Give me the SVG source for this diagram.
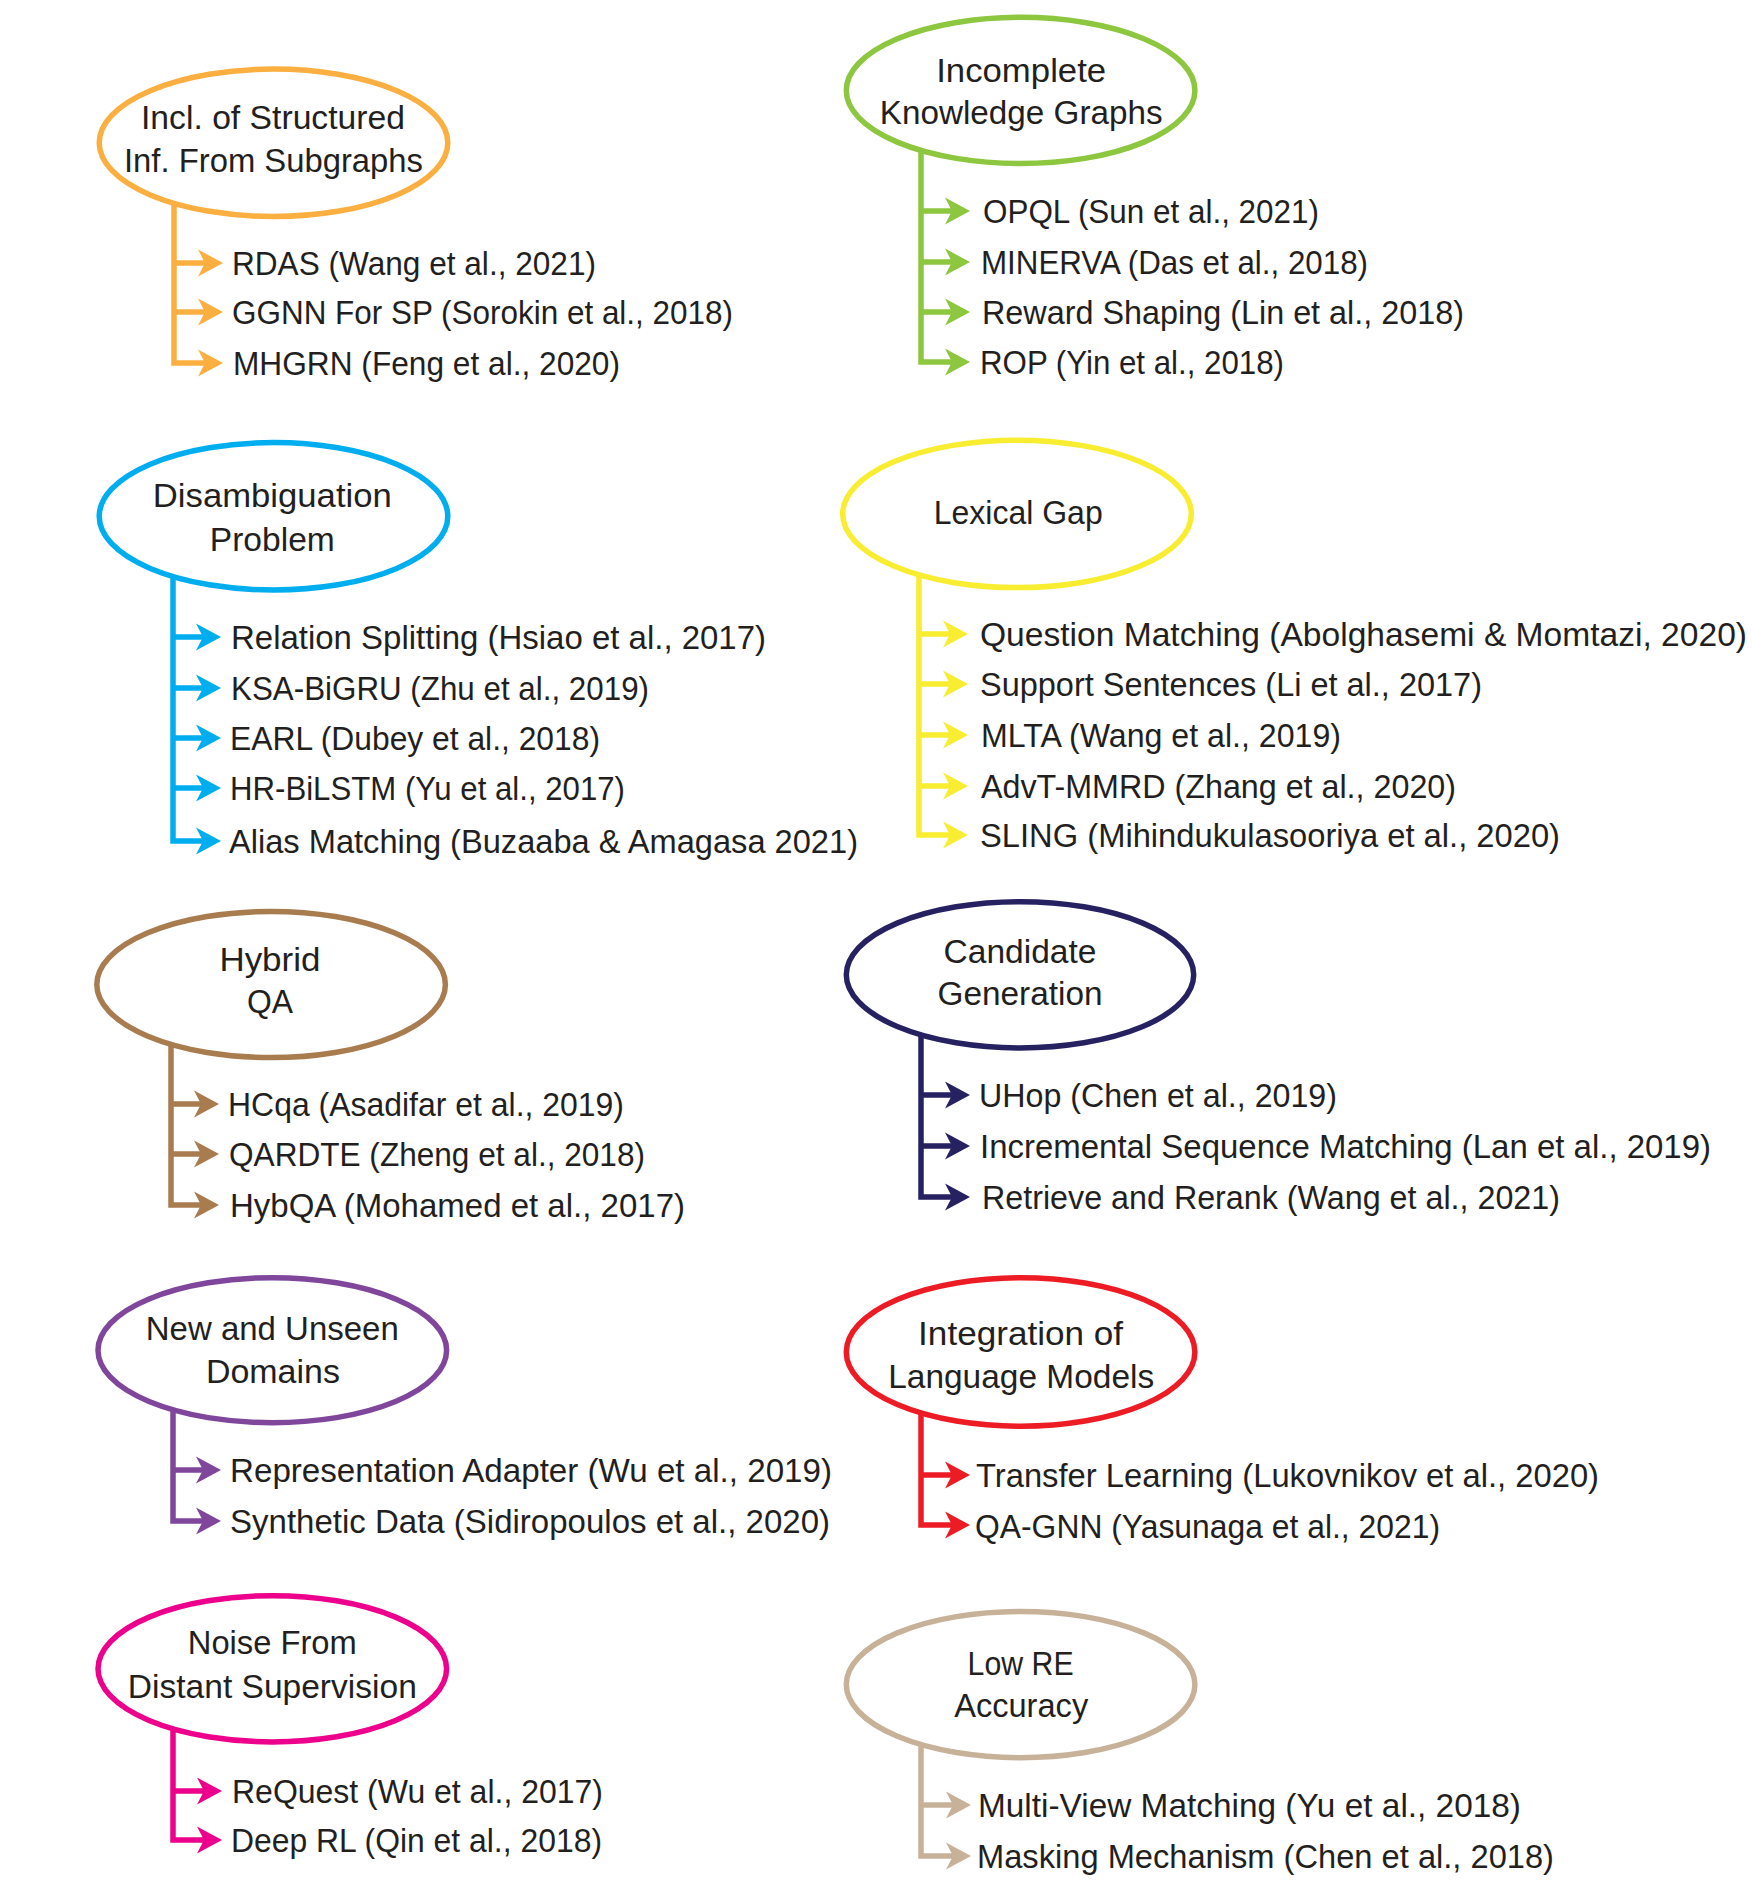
<svg xmlns="http://www.w3.org/2000/svg" xmlns:xlink="http://www.w3.org/1999/xlink" width="1752" height="1890" viewBox="0 0 1752 1890">
<style>
.bg{fill:#ffffff}
.el{fill:#ffffff;stroke-width:5.5}
.h{font-family:"Liberation Sans",Arial,sans-serif;font-size:33px;fill:#231f20;text-anchor:middle}
.t{font-family:"Liberation Sans",Arial,sans-serif;font-size:33px;fill:#231f20}
.c{fill:none;stroke-width:5.5;stroke-linejoin:miter;stroke-linecap:butt}
</style>
<defs>
<path id="ah" d="M0,0 L-25,-13.5 L-18,0 L-25,13.5 Z"/>
</defs>
<rect class="bg" x="0" y="0" width="1752" height="1890"/>

<g id="connectors">
  <!-- orange -->
  <path class="c" stroke="#FAAF40" d="M174 203 V363 H205 M174 263 H205 M174 312 H205"/>
  <use href="#ah" x="223" y="263" fill="#FAAF40"/>
  <use href="#ah" x="223" y="312" fill="#FAAF40"/>
  <use href="#ah" x="223" y="363" fill="#FAAF40"/>
  <!-- blue -->
  <path class="c" stroke="#00AEEF" d="M173 576 V841 H203 M173 637 H203 M173 688 H203 M173 738 H203 M173 788 H203"/>
  <use href="#ah" x="221" y="637" fill="#00AEEF"/>
  <use href="#ah" x="221" y="688" fill="#00AEEF"/>
  <use href="#ah" x="221" y="738" fill="#00AEEF"/>
  <use href="#ah" x="221" y="788" fill="#00AEEF"/>
  <use href="#ah" x="221" y="841" fill="#00AEEF"/>
  <!-- brown -->
  <path class="c" stroke="#A97C50" d="M171 1044 V1205 H201 M171 1104 H201 M171 1154 H201"/>
  <use href="#ah" x="219" y="1104" fill="#A97C50"/>
  <use href="#ah" x="219" y="1154" fill="#A97C50"/>
  <use href="#ah" x="219" y="1205" fill="#A97C50"/>
  <!-- purple -->
  <path class="c" stroke="#7F469C" d="M173 1409 V1521 H203 M173 1470 H203"/>
  <use href="#ah" x="221" y="1470" fill="#7F469C"/>
  <use href="#ah" x="221" y="1521" fill="#7F469C"/>
  <!-- magenta -->
  <path class="c" stroke="#EC008C" d="M173 1729 V1840 H204 M173 1791 H204"/>
  <use href="#ah" x="222" y="1791" fill="#EC008C"/>
  <use href="#ah" x="222" y="1840" fill="#EC008C"/>
  <!-- green -->
  <path class="c" stroke="#8DC63F" d="M921 150 V362 H952 M921 211 H952 M921 262 H952 M921 312 H952"/>
  <use href="#ah" x="970" y="211" fill="#8DC63F"/>
  <use href="#ah" x="970" y="262" fill="#8DC63F"/>
  <use href="#ah" x="970" y="312" fill="#8DC63F"/>
  <use href="#ah" x="970" y="362" fill="#8DC63F"/>
  <!-- yellow -->
  <path class="c" stroke="#F9ED32" d="M919 574 V835 H950 M919 634 H950 M919 684 H950 M919 735 H950 M919 786 H950"/>
  <use href="#ah" x="968" y="634" fill="#F9ED32"/>
  <use href="#ah" x="968" y="684" fill="#F9ED32"/>
  <use href="#ah" x="968" y="735" fill="#F9ED32"/>
  <use href="#ah" x="968" y="786" fill="#F9ED32"/>
  <use href="#ah" x="968" y="835" fill="#F9ED32"/>
  <!-- navy -->
  <path class="c" stroke="#262262" d="M921 1035 V1197 H952 M921 1095 H952 M921 1146 H952"/>
  <use href="#ah" x="970" y="1095" fill="#262262"/>
  <use href="#ah" x="970" y="1146" fill="#262262"/>
  <use href="#ah" x="970" y="1197" fill="#262262"/>
  <!-- red -->
  <path class="c" stroke="#ED1C24" d="M921 1412 V1525 H952 M921 1475 H952"/>
  <use href="#ah" x="970" y="1475" fill="#ED1C24"/>
  <use href="#ah" x="970" y="1525" fill="#ED1C24"/>
  <!-- tan -->
  <path class="c" stroke="#C7B299" d="M921 1744 V1856 H953 M921 1805 H953"/>
  <use href="#ah" x="971" y="1805" fill="#C7B299"/>
  <use href="#ah" x="971" y="1856" fill="#C7B299"/>
</g>

<!-- Left column -->
<g id="structured-inf">
  <ellipse class="el" stroke="#FAAF40" cx="273.5" cy="142.8" rx="174.3" ry="73.7"/>
  <text class="h" x="273" y="129" textLength="264" lengthAdjust="spacingAndGlyphs">Incl. of Structured</text>
  <text class="h" x="273.5" y="172" textLength="299" lengthAdjust="spacingAndGlyphs">Inf. From Subgraphs</text>
</g>
<g id="rdas"><text class="t" x="232" y="275" textLength="364" lengthAdjust="spacingAndGlyphs">RDAS (Wang et al., 2021)</text></g>
<g id="ggnn"><text class="t" x="232" y="324" textLength="501" lengthAdjust="spacingAndGlyphs">GGNN For SP (Sorokin et al., 2018)</text></g>
<g id="mhgrn"><text class="t" x="233" y="375" textLength="387" lengthAdjust="spacingAndGlyphs">MHGRN (Feng et al., 2020)</text></g>

<g id="disambiguation">
  <ellipse class="el" stroke="#00AEEF" cx="273.5" cy="516.3" rx="174.3" ry="73.7"/>
  <text class="h" x="272.3" y="507" textLength="239" lengthAdjust="spacingAndGlyphs">Disambiguation</text>
  <text class="h" x="272.3" y="551" textLength="125" lengthAdjust="spacingAndGlyphs">Problem</text>
</g>
<g id="relation-splitting"><text class="t" x="231" y="649" textLength="535" lengthAdjust="spacingAndGlyphs">Relation Splitting (Hsiao et al., 2017)</text></g>
<g id="ksa-bigru"><text class="t" x="231" y="700" textLength="418" lengthAdjust="spacingAndGlyphs">KSA-BiGRU (Zhu et al., 2019)</text></g>
<g id="earl"><text class="t" x="230" y="750" textLength="370" lengthAdjust="spacingAndGlyphs">EARL (Dubey et al., 2018)</text></g>
<g id="hr-bilstm"><text class="t" x="230" y="800" textLength="395" lengthAdjust="spacingAndGlyphs">HR-BiLSTM (Yu et al., 2017)</text></g>
<g id="alias-matching"><text class="t" x="229" y="853" textLength="629" lengthAdjust="spacingAndGlyphs">Alias Matching (Buzaaba &amp; Amagasa 2021)</text></g>

<g id="hybrid-qa">
  <ellipse class="el" stroke="#A97C50" cx="271.1" cy="984.5" rx="174.3" ry="73.1"/>
  <text class="h" x="269.9" y="971" textLength="101" lengthAdjust="spacingAndGlyphs">Hybrid</text>
  <text class="h" x="269.9" y="1013" textLength="46" lengthAdjust="spacingAndGlyphs">QA</text>
</g>
<g id="hcqa"><text class="t" x="228" y="1116" textLength="396" lengthAdjust="spacingAndGlyphs">HCqa (Asadifar et al., 2019)</text></g>
<g id="qardte"><text class="t" x="229" y="1166" textLength="416" lengthAdjust="spacingAndGlyphs">QARDTE (Zheng et al., 2018)</text></g>
<g id="hybqa"><text class="t" x="230" y="1217" textLength="455" lengthAdjust="spacingAndGlyphs">HybQA (Mohamed et al., 2017)</text></g>

<g id="new-domains">
  <ellipse class="el" stroke="#7F469C" cx="272.3" cy="1350.2" rx="174.3" ry="72.5"/>
  <text class="h" x="272.3" y="1340" textLength="253" lengthAdjust="spacingAndGlyphs">New and Unseen</text>
  <text class="h" x="272.9" y="1383" textLength="134" lengthAdjust="spacingAndGlyphs">Domains</text>
</g>
<g id="representation-adapter"><text class="t" x="230" y="1482" textLength="602" lengthAdjust="spacingAndGlyphs">Representation Adapter (Wu et al., 2019)</text></g>
<g id="synthetic-data"><text class="t" x="230" y="1533" textLength="600" lengthAdjust="spacingAndGlyphs">Synthetic Data (Sidiropoulos et al., 2020)</text></g>

<g id="noise-distant">
  <ellipse class="el" stroke="#EC008C" cx="272.3" cy="1668.8" rx="174.3" ry="73.1"/>
  <text class="h" x="272.3" y="1654" textLength="169" lengthAdjust="spacingAndGlyphs">Noise From</text>
  <text class="h" x="272.3" y="1698" textLength="289" lengthAdjust="spacingAndGlyphs">Distant Supervision</text>
</g>
<g id="request"><text class="t" x="232" y="1803" textLength="371" lengthAdjust="spacingAndGlyphs">ReQuest (Wu et al., 2017)</text></g>
<g id="deep-rl"><text class="t" x="231" y="1852" textLength="371" lengthAdjust="spacingAndGlyphs">Deep RL (Qin et al., 2018)</text></g>

<!-- Right column -->
<g id="incomplete-kg">
  <ellipse class="el" stroke="#8DC63F" cx="1020.6" cy="90.4" rx="174.3" ry="73.1"/>
  <text class="h" x="1021.2" y="82" textLength="170" lengthAdjust="spacingAndGlyphs">Incomplete</text>
  <text class="h" x="1021.2" y="124" textLength="283" lengthAdjust="spacingAndGlyphs">Knowledge Graphs</text>
</g>
<g id="opql"><text class="t" x="983" y="223" textLength="336" lengthAdjust="spacingAndGlyphs">OPQL (Sun et al., 2021)</text></g>
<g id="minerva"><text class="t" x="981" y="274" textLength="387" lengthAdjust="spacingAndGlyphs">MINERVA (Das et al., 2018)</text></g>
<g id="reward-shaping"><text class="t" x="982" y="324" textLength="482" lengthAdjust="spacingAndGlyphs">Reward Shaping (Lin et al., 2018)</text></g>
<g id="rop"><text class="t" x="980" y="374" textLength="304" lengthAdjust="spacingAndGlyphs">ROP (Yin et al., 2018)</text></g>

<g id="lexical-gap">
  <ellipse class="el" stroke="#F9ED32" cx="1017" cy="513.9" rx="174.3" ry="73.7"/>
  <text class="h" x="1018.2" y="524" textLength="169" lengthAdjust="spacingAndGlyphs">Lexical Gap</text>
</g>
<g id="question-matching"><text class="t" x="980" y="646" textLength="767" lengthAdjust="spacingAndGlyphs">Question Matching (Abolghasemi &amp; Momtazi, 2020)</text></g>
<g id="support-sentences"><text class="t" x="980" y="696" textLength="502" lengthAdjust="spacingAndGlyphs">Support Sentences (Li et al., 2017)</text></g>
<g id="mlta"><text class="t" x="981" y="747" textLength="360" lengthAdjust="spacingAndGlyphs">MLTA (Wang et al., 2019)</text></g>
<g id="advt-mmrd"><text class="t" x="981" y="798" textLength="475" lengthAdjust="spacingAndGlyphs">AdvT-MMRD (Zhang et al., 2020)</text></g>
<g id="sling"><text class="t" x="980" y="847" textLength="580" lengthAdjust="spacingAndGlyphs">SLING (Mihindukulasooriya et al., 2020)</text></g>

<g id="candidate-generation">
  <ellipse class="el" stroke="#262262" cx="1020" cy="974.8" rx="173.7" ry="73.1"/>
  <text class="h" x="1020" y="963" textLength="153" lengthAdjust="spacingAndGlyphs">Candidate</text>
  <text class="h" x="1020" y="1005" textLength="165" lengthAdjust="spacingAndGlyphs">Generation</text>
</g>
<g id="uhop"><text class="t" x="979" y="1107" textLength="358" lengthAdjust="spacingAndGlyphs">UHop (Chen et al., 2019)</text></g>
<g id="incremental-sequence"><text class="t" x="980" y="1158" textLength="731" lengthAdjust="spacingAndGlyphs">Incremental Sequence Matching (Lan et al., 2019)</text></g>
<g id="retrieve-rerank"><text class="t" x="982" y="1209" textLength="578" lengthAdjust="spacingAndGlyphs">Retrieve and Rerank (Wang et al., 2021)</text></g>

<g id="integration-lm">
  <ellipse class="el" stroke="#ED1C24" cx="1020.6" cy="1352" rx="174.3" ry="74.3"/>
  <text class="h" x="1020.6" y="1345" textLength="205" lengthAdjust="spacingAndGlyphs">Integration of</text>
  <text class="h" x="1021.2" y="1388" textLength="266" lengthAdjust="spacingAndGlyphs">Language Models</text>
</g>
<g id="transfer-learning"><text class="t" x="976" y="1487" textLength="623" lengthAdjust="spacingAndGlyphs">Transfer Learning (Lukovnikov et al., 2020)</text></g>
<g id="qa-gnn"><text class="t" x="975" y="1538" textLength="465" lengthAdjust="spacingAndGlyphs">QA-GNN (Yasunaga et al., 2021)</text></g>

<g id="low-re">
  <ellipse class="el" stroke="#C7B299" cx="1020.6" cy="1684.6" rx="174.3" ry="73.1"/>
  <text class="h" x="1020.6" y="1675" textLength="106" lengthAdjust="spacingAndGlyphs">Low RE</text>
  <text class="h" x="1021.2" y="1717" textLength="134" lengthAdjust="spacingAndGlyphs">Accuracy</text>
</g>
<g id="multi-view"><text class="t" x="978" y="1817" textLength="543" lengthAdjust="spacingAndGlyphs">Multi-View Matching (Yu et al., 2018)</text></g>
<g id="masking"><text class="t" x="977" y="1868" textLength="577" lengthAdjust="spacingAndGlyphs">Masking Mechanism (Chen et al., 2018)</text></g>
</svg>
